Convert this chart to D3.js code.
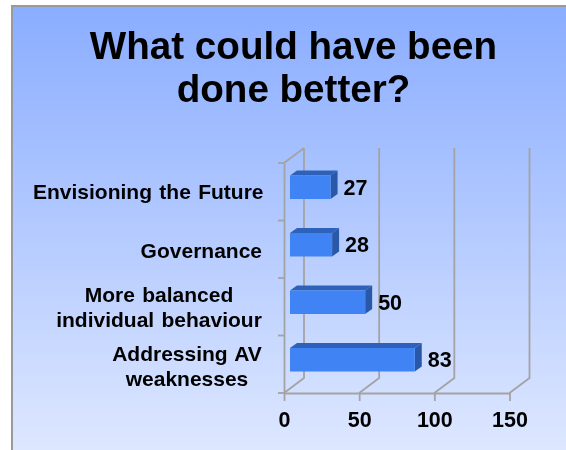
<!DOCTYPE html>
<html><head><meta charset="utf-8">
<script src="https://cdn.jsdelivr.net/npm/d3@7"></script>
<style>html,body{margin:0;padding:0;background:#fff}svg{display:block}</style></head>
<body><svg id="c" width="566" height="450"></svg>
<script>
const titleLines = ["What could have been", "done better?"];
const categories = ["Envisioning the Future", "Governance", "More balanced|individual behaviour", "Addressing AV|weaknesses"];
const values = [27, 28, 50, 83];
const xTicks = [0, 50, 100, 150];

const svg = d3.select("#c");
const font = "'Liberation Sans', Arial, sans-serif";
const defs = svg.append("defs");
const g = defs.append("linearGradient").attr("id","bg").attr("x1",0).attr("y1",0).attr("x2",0).attr("y2",1);
g.append("stop").attr("offset","0%").attr("stop-color","#8aadff");
g.append("stop").attr("offset","100%").attr("stop-color","#dde7ff");
defs.append("filter").attr("id","soft").append("feGaussianBlur").attr("stdDeviation",0.45);

svg.append("rect").attr("x",12).attr("y",6).attr("width",554).attr("height",444).attr("fill","url(#bg)");
svg.append("path").attr("d","M12,450V6H566").attr("fill","none").attr("stroke","#9a9a9a").attr("stroke-width",2);

const root = svg.append("g").attr("filter","url(#soft)");
root.append("g").selectAll("text").data(titleLines).join("text")
  .attr("x",293.5).attr("y",(d,i)=>59+i*43).attr("text-anchor","middle")
  .attr("font-family",font).attr("font-weight","bold").attr("font-size",38.6).attr("fill","#000").text(d=>d);

const x = d3.scaleLinear().domain([0,150]).range([284,509.5]);
const y = d3.scaleBand().domain(categories).range([163,393]);
const depth = {dx:20, dy:-15};
const grid = "#a3a3a3";
const plot = root.append("g");

plot.append("g").selectAll("path").data(xTicks).join("path")
  .attr("d",d=>`M${x(d)},${y.range()[1]}L${x(d)+depth.dx},${y.range()[1]+depth.dy}V${y.range()[0]+depth.dy}`)
  .attr("fill","none").attr("stroke",grid).attr("stroke-width",1.8);
plot.append("path")
  .attr("d",`M${x(0)},${y.range()[0]}L${x(0)+depth.dx},${y.range()[0]+depth.dy}`)
  .attr("fill","none").attr("stroke",grid).attr("stroke-width",1.8);

const yAxis = d3.axisLeft(y).tickValues([]).tickSizeOuter(0);
const yLine = plot.append("g").attr("transform",`translate(${x(0)},0)`).call(yAxis);
yLine.select(".domain").attr("stroke",grid).attr("stroke-width",1.8);
const yEdges = [...categories.map(c=>y(c)), y.range()[1]];
plot.append("g").selectAll("line").data(yEdges).join("line")
  .attr("x1",x(0)-6).attr("x2",x(0)).attr("y1",d=>d).attr("y2",d=>d)
  .attr("stroke",grid).attr("stroke-width",1.8);

const xAxis = d3.axisBottom(x).tickValues(xTicks).tickSize(8).tickPadding(11).tickSizeOuter(0);
const xg = plot.append("g").attr("transform",`translate(0,${y.range()[1]})`).call(xAxis);
xg.select(".domain").attr("stroke",grid).attr("stroke-width",1.8);
xg.selectAll("line").attr("stroke",grid).attr("stroke-width",1.8);
xg.selectAll("text").attr("font-family",font).attr("font-weight","bold").attr("font-size",21.5).attr("fill","#000");

const barShift = 6, faceH = 23.5, bdx = 7, bdy = -5;
const bars = plot.append("g").selectAll("g").data(values).join("g")
  .attr("transform",(d,i)=>`translate(0,${y(categories[i]) + 12.5})`);
const x0 = x(0)+barShift;
const x1 = d => x(d)+barShift;
bars.append("path").attr("fill","#2d62ba")
  .attr("d",d=>`M${x0},0l${bdx},${bdy}H${x1(d)+bdx}L${x1(d)},0Z`);
bars.append("path").attr("fill","#2b58a8")
  .attr("d",d=>`M${x1(d)},0l${bdx},${bdy}v${faceH}l${-bdx},${-bdy}Z`);
bars.append("rect").attr("fill","#3f83f4").attr("x",x0).attr("y",0)
  .attr("width",d=>x1(d)-x0).attr("height",faceH);
bars.append("text").attr("x",d=>x1(d)+bdx+6).attr("y",19)
  .attr("font-family",font).attr("font-weight","bold").attr("font-size",21.5).attr("fill","#000").text(d=>d);

const catG = root.append("g");
const labelX = [263.5, 262, 159, 187];
const labelY = [199.3, 258, 302, 361];
categories.forEach((c,i)=>{
  const lines = c.split("|");
  lines.forEach((t,j)=>{
    catG.append("text")
      .attr("x", labelX[i])
      .attr("y", labelY[i] + j*24.5)
      .attr("text-anchor", lines.length>1 ? "middle":"end")
      .attr("word-spacing",1.5)
      .attr("font-family",font).attr("font-weight","bold").attr("font-size",21).attr("fill","#000").text(t);
  });
});
</script></body></html>
